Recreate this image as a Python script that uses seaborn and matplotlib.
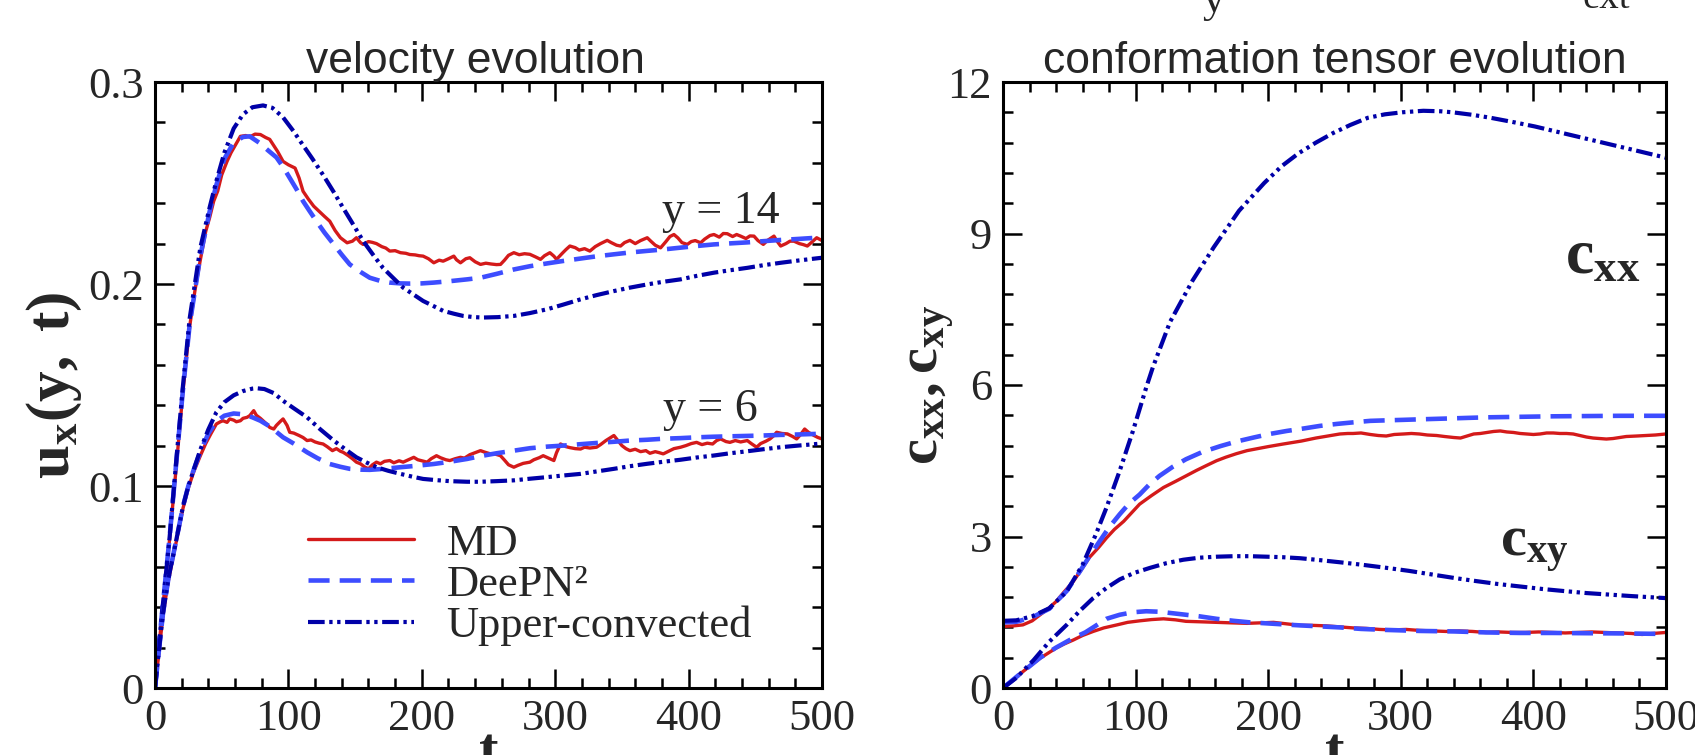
import matplotlib
matplotlib.use("Agg")
import matplotlib.pyplot as plt
from matplotlib.ticker import MultipleLocator
import pandas as pd
import seaborn as sns

# ---------------- data: (t, value) ----------------
# left panel, u_x(y, t)
md14 = [(0, 0), (3, .021), (6, .041), (11, .074), (16, .110), (21, .147), (26, .179), (30, .197), (34, .212), (38, .226),
        (41, .233), (44, .241), (47, .246), (50, .254), (54, .2607), (57, .265), (60, .2685), (64, .2731), (68, .2735), (71, .2728),
        (75, .2742), (79, .274), (83, .2725), (86, .2716), (89, .2685), (92, .2655), (96, .2607), (100, .259), (105, .2574), (108, .2525),
        (111, .2459), (115, .242), (119, .2385), (123, .236), (127, .2335), (131, .2311), (135, .2265), (139, .2229), (144, .2204), (148, .2212),
        (151, .2229), (154, .2205), (156, .2196), (160, .221), (163, .2206), (166, .220), (170, .2185), (173, .2178), (176, .2163), (180, .2165),
        (184, .2155), (188, .2152), (191, .2146), (195, .2144), (198, .214), (201, .2138), (205, .2125), (209, .2105), (213, .2118), (216, .2113),
        (220, .2125), (224, .2138), (226, .212), (229, .2105), (233, .2125), (236, .213), (240, .211), (244, .2097), (248, .2103), (252, .2099),
        (256, .2096), (259, .2097), (262, .2118), (265, .2142), (269, .2155), (273, .2145), (277, .215), (281, .2147), (285, .2135), (289, .2122),
        (292, .214), (296, .2155), (299, .2138), (301, .2122), (305, .215), (308, .217), (311, .2188), (315, .218), (318, .2168), (322, .2175),
        (326, .2163), (330, .2185), (334, .220), (339, .2216), (342, .2205), (346, .2192), (349, .2188), (352, .2205), (356, .2216), (360, .220),
        (364, .2215), (369, .2229), (372, .221), (375, .2192), (379, .2179), (383, .221), (386, .2235), (389, .2245), (392, .2228), (395, .2205),
        (399, .2196), (402, .221), (405, .2215), (409, .2204), (412, .2222), (416, .224), (419, .2245), (423, .2232), (426, .225), (429, .2249),
        (433, .2235), (436, .2245), (439, .2237), (443, .2225), (446, .2238), (449, .2237), (452, .2215), (456, .2196), (459, .2215), (464, .2237),
        (466, .2215), (469, .2188), (473, .220), (476, .2212), (479, .2212), (483, .220), (486, .2195), (489, .2188), (492, .2205), (496, .2229), (500, .2215)]
dp14 = [(0, 0), (3, .022), (6, .042), (11, .075), (16, .112), (21, .148), (26, .180), (34, .214), (41, .236), (46, .249),
        (52, .262), (59, .270), (66, .2728), (71, .2731), (78, .270), (85, .266), (91, .2627), (96, .258), (101, .2525), (106, .247),
        (111, .241), (116, .236), (121, .2311), (127, .2255), (134, .2196), (140, .2145), (146, .2097), (154, .206), (161, .2031), (169, .2015),
        (176, .2007), (184, .2003), (191, .2002), (200, .2003), (209, .2007), (221, .2014), (234, .2023), (244, .2031), (256, .205), (269, .2072),
        (281, .2088), (294, .2102), (306, .2114), (319, .2126), (331, .2137), (344, .2147), (356, .2156), (369, .2164), (381, .2171), (394, .218),
        (406, .2188), (419, .2196), (431, .2201), (444, .2206), (456, .2212), (469, .2218), (482, .2223), (496, .2229), (500, .223)]
uc14 = [(0, 0), (3, .022), (6, .042), (11, .075), (16, .113), (21, .150), (26, .183), (34, .218), (41, .238), (46, .251),
        (52, .265), (59, .277), (66, .284), (73, .2875), (81, .2884), (88, .2872), (96, .2825), (104, .2755), (109, .2706), (118, .262),
        (126, .254), (134, .2455), (141, .2377), (149, .229), (156, .2213), (164, .214), (171, .2079), (179, .2027), (186, .1982), (194, .1947),
        (201, .1916), (209, .189), (216, .1867), (224, .1853), (231, .1842), (239, .1836), (246, .1834), (257, .1836), (269, .1842), (281, .1856),
        (294, .1875), (306, .1898), (319, .1924), (331, .1945), (344, .1965), (356, .1982), (369, .1998), (381, .2011), (394, .2023), (406, .204),
        (419, .2056), (431, .2068), (444, .208), (456, .2093), (469, .2105), (482, .2116), (496, .2127), (500, .213)]
md6 = [(0, 0), (3, .018), (6, .036), (10, .053), (14, .066), (18, .079), (21, .089), (25, .099), (29, .107), (34, .115),
       (38, .121), (42, .126), (46, .1307), (49, .1318), (51, .1323), (54, .1315), (56, .1332), (59, .1326), (61, .1318), (64, .1323),
       (66, .1335), (69, .134), (71, .1348), (74, .1373), (76, .135), (79, .1335), (81, .1323), (84, .1305), (86, .129), (89, .1282),
       (91, .130), (94, .132), (96, .1332), (99, .130), (101, .1266), (104, .1262), (108, .125), (111, .124), (114, .1225), (117, .1228),
       (120, .1218), (123, .1212), (126, .1208), (129, .1195), (133, .1175), (136, .1185), (139, .1172), (141, .1167), (145, .115), (148, .1135),
       (151, .1118), (154, .111), (157, .1095), (160, .1085), (163, .1105), (166, .1118), (169, .111), (172, .1122), (176, .1126), (179, .1115),
       (183, .1125), (186, .1118), (190, .113), (194, .1142), (197, .113), (200, .1125), (204, .1118), (207, .1135), (211, .115), (214, .114),
       (218, .113), (221, .1126), (225, .1135), (229, .1142), (232, .1138), (236, .1155), (240, .1165), (244, .1175), (247, .1168), (251, .116),
       (255, .1158), (259, .115), (262, .1128), (265, .1105), (269, .1093), (272, .1102), (276, .1112), (281, .1118), (284, .113), (288, .114),
       (291, .115), (295, .1138), (299, .1126), (301, .1165), (304, .1208), (308, .1195), (311, .119), (315, .1185), (319, .1183), (322, .1192),
       (326, .1188), (331, .1192), (334, .1205), (338, .1225), (342, .1242), (344, .125), (347, .1225), (350, .120), (353, .1185), (356, .1175),
       (360, .1182), (364, .117), (368, .1175), (371, .1162), (375, .117), (378, .1165), (381, .1159), (385, .1172), (389, .1185), (394, .1192),
       (398, .120), (402, .121), (406, .1216), (410, .1205), (414, .1212), (418, .1208), (421, .1225), (424, .1233), (428, .122), (431, .1216),
       (435, .1225), (439, .1218), (444, .1225), (447, .121), (451, .1192), (454, .121), (458, .1222), (461, .1233), (464, .125), (466, .1266),
       (470, .126), (474, .1258), (478, .1245), (481, .1233), (484, .1255), (487, .1282), (490, .1265), (494, .125), (497, .124), (500, .1233)]
dp6 = [(0, 0), (3, .019), (6, .037), (10, .054), (14, .067), (18, .080), (21, .090), (25, .100), (29, .108), (34, .117),
       (40, .126), (46, .132), (52, .1348), (59, .1359), (66, .1355), (73, .134), (79, .1323), (86, .1295), (96, .1241), (104, .121),
       (114, .1167), (122, .1137), (131, .1109), (139, .1095), (146, .1085), (154, .1081), (161, .108), (172, .1085), (184, .1093), (196, .110),
       (209, .1109), (221, .112), (234, .1134), (244, .1148), (256, .1162), (269, .1175), (281, .1187), (294, .1195), (306, .120), (319, .1207),
       (331, .1213), (344, .1219), (356, .1225), (369, .1229), (381, .1234), (394, .1237), (406, .1241), (419, .1244), (431, .1246), (444, .1248),
       (456, .125), (469, .1253), (482, .1255), (496, .1258), (500, .1258)]
uc6 = [(0, 0), (3, .019), (6, .037), (10, .054), (14, .067), (18, .080), (21, .090), (25, .100), (29, .108), (34, .118),
       (40, .128), (46, .1365), (52, .1415), (59, .1449), (66, .147), (73, .1482), (76, .1484), (82, .148), (89, .146), (96, .1422),
       (104, .1385), (114, .134), (124, .128), (134, .1225), (143, .118), (151, .1142), (159, .1115), (166, .1093), (175, .1075), (184, .106),
       (193, .1046), (201, .1035), (211, .1029), (221, .1024), (234, .1021), (244, .1021), (256, .1024), (269, .1028), (281, .1036), (294, .1044),
       (306, .1052), (319, .106), (331, .1072), (344, .1085), (356, .1098), (369, .111), (381, .112), (394, .113), (406, .1141), (419, .1151),
       (431, .1162), (444, .1172), (456, .1182), (469, .1192), (482, .120), (496, .1208), (500, .121)]

# right panel, c_xx and c_xy
md_cxx = [(0, 1.22), (8, 1.23), (15, 1.25), (22, 1.33), (28, 1.45), (34, 1.57), (40, 1.71), (46, 1.90), (53, 2.11), (59, 2.34),
          (65, 2.58), (72, 2.78), (78, 2.97), (84, 3.14), (91, 3.30), (97, 3.47), (103, 3.64), (112, 3.81), (121, 3.97), (130, 4.09),
          (138, 4.20), (146, 4.31), (153, 4.40), (161, 4.50), (168, 4.57), (176, 4.64), (184, 4.70), (192, 4.74), (200, 4.78), (211, 4.83),
          (218, 4.86), (225, 4.89), (236, 4.95), (245, 4.99), (254, 5.03), (260, 5.04), (264, 5.04), (270, 5.05), (277, 5.02), (283, 5.00),
          (289, 4.99), (295, 5.02), (302, 5.03), (308, 5.04), (314, 5.03), (320, 5.01), (327, 5.00), (333, 4.98), (340, 4.96), (345, 4.95),
          (350, 4.99), (355, 5.03), (360, 5.04), (365, 5.06), (370, 5.08), (375, 5.09), (380, 5.07), (385, 5.06), (390, 5.04), (395, 5.03),
          (400, 5.02), (405, 5.03), (410, 5.05), (415, 5.05), (420, 5.04), (425, 5.04), (430, 5.03), (435, 5.00), (440, 4.97), (445, 4.95),
          (450, 4.94), (455, 4.93), (460, 4.94), (465, 4.96), (470, 4.98), (478, 4.99), (485, 5.00), (492, 5.01), (500, 5.03)]
dp_cxx = [(0, 1.30), (10, 1.31), (22, 1.40), (35, 1.57), (48, 1.92), (58, 2.31), (65, 2.60), (73, 2.91), (80, 3.18), (88, 3.44),
          (95, 3.65), (103, 3.83), (110, 4.02), (118, 4.20), (128, 4.38), (138, 4.53), (150, 4.67), (164, 4.79), (176, 4.88), (189, 4.96),
          (201, 5.03), (214, 5.09), (227, 5.14), (239, 5.19), (252, 5.23), (264, 5.26), (277, 5.29), (289, 5.30), (302, 5.31), (314, 5.32),
          (327, 5.33), (340, 5.34), (352, 5.35), (365, 5.36), (377, 5.365), (390, 5.37), (402, 5.375), (415, 5.38), (440, 5.385), (465, 5.39),
          (500, 5.39)]
uc_cxx = [(0, 1.33), (10, 1.34), (22, 1.42), (35, 1.58), (48, 1.91), (60, 2.44), (70, 3.04), (78, 3.57), (88, 4.30), (98, 5.09),
          (108, 5.95), (113, 6.35), (126, 7.25), (143, 8.07), (159, 8.73), (178, 9.45), (197, 10.00), (210, 10.33), (223, 10.59), (236, 10.80),
          (249, 10.99), (262, 11.15), (275, 11.29), (288, 11.36), (301, 11.40), (317, 11.43), (330, 11.42), (339, 11.40), (354, 11.35), (368, 11.29),
          (384, 11.21), (401, 11.12), (417, 11.02), (433, 10.92), (449, 10.82), (465, 10.72), (481, 10.62), (500, 10.50)]
md_cxy = [(0, 0), (6, .12), (12, .26), (20, .43), (28, .59), (34, .69), (40, .79), (46, .87), (53, .95), (60, 1.04),
          (68, 1.12), (76, 1.19), (86, 1.25), (94, 1.30), (103, 1.33), (112, 1.355), (121, 1.37), (130, 1.35), (138, 1.32), (150, 1.31),
          (161, 1.30), (172, 1.29), (184, 1.28), (194, 1.29), (204, 1.30), (214, 1.27), (224, 1.24), (234, 1.24), (244, 1.23), (254, 1.21),
          (264, 1.19), (274, 1.18), (284, 1.16), (294, 1.15), (304, 1.16), (314, 1.14), (324, 1.13), (334, 1.12), (344, 1.13), (354, 1.12),
          (364, 1.10), (374, 1.11), (384, 1.10), (394, 1.10), (404, 1.11), (414, 1.10), (424, 1.09), (434, 1.10), (444, 1.11), (454, 1.10),
          (464, 1.09), (474, 1.08), (482, 1.06), (490, 1.08), (500, 1.10)]
dp_cxy = [(0, 0), (12, .26), (28, .60), (40, .80), (53, .99), (62, 1.10), (68, 1.20), (78, 1.37), (88, 1.45), (98, 1.50),
          (108, 1.52), (118, 1.51), (128, 1.48), (138, 1.45), (148, 1.42), (161, 1.37), (174, 1.33), (186, 1.30), (199, 1.28), (211, 1.26),
          (224, 1.24), (239, 1.22), (254, 1.20), (270, 1.17), (289, 1.15), (314, 1.13), (340, 1.12), (365, 1.10), (390, 1.09), (415, 1.09),
          (440, 1.085), (470, 1.08), (500, 1.07)]
uc_cxy = [(0, 0), (10, .20), (23, .55), (35, .92), (48, 1.25), (58, 1.53), (68, 1.78), (78, 1.98), (88, 2.15), (99, 2.28),
          (111, 2.38), (123, 2.47), (136, 2.54), (148, 2.58), (161, 2.60), (174, 2.61), (186, 2.61), (199, 2.60), (211, 2.59), (224, 2.57),
          (236, 2.54), (254, 2.49), (271, 2.44), (289, 2.38), (306, 2.32), (323, 2.25), (340, 2.18), (356, 2.12), (373, 2.06), (390, 2.01),
          (407, 1.96), (423, 1.92), (440, 1.88), (457, 1.85), (474, 1.82), (490, 1.795), (500, 1.78)]

t_ticks = [0, 100, 200, 300, 400, 500]
u_ticks = [0, 0.1, 0.2, 0.3]
u_ticklabels = ["0", "0.1", "0.2", "0.3"]
c_ticks = [0, 3, 6, 9, 12]
legend_labels = ["MD", "DeePN²", "Upper-convected"]

# ---------------- style ----------------
sns.set_style("ticks")
plt.rcParams["font.family"] = ["Liberation Serif", "DejaVu Serif"]
plt.rcParams["mathtext.fontset"] = "custom"
plt.rcParams["mathtext.rm"] = "Liberation Serif"
plt.rcParams["mathtext.it"] = "Liberation Serif:italic"
plt.rcParams["mathtext.bf"] = "Liberation Serif:bold"

RED = "#d41a1a"
BLUE = "#3d4dff"
NAVY = "#0000a8"
styles = {
    "md": dict(color=RED, lw=2.4, linestyle="-"),
    "dp": dict(color=BLUE, lw=3.3, linestyle=(0, (4.6, 2.2))),
    "uc": dict(color=NAVY, lw=3.0, linestyle=(0, (4.0, 1.1, 0.8, 1.1, 0.8, 1.1))),
}


def draw(ax, pts, kind, label=None):
    df = pd.DataFrame(pts, columns=["t", "v"])
    sns.lineplot(data=df, x="t", y="v", ax=ax, estimator=None, sort=False,
                 label=label, legend=False, **styles[kind])


def frame(ax, yticks, ylabels, yminor):
    ax.set_xlim(0, 500)
    ax.set_xticks(t_ticks, [str(t) for t in t_ticks])
    ax.set_yticks(yticks, ylabels)
    ax.xaxis.set_minor_locator(MultipleLocator(20))
    ax.yaxis.set_minor_locator(MultipleLocator(yminor))
    ax.tick_params(which="both", direction="in", top=True, right=True, width=1.8, color="black")
    ax.tick_params(which="major", length=14, labelsize=32, pad=8)
    ax.tick_params(which="minor", length=7)
    for sp in ax.spines.values():
        sp.set_linewidth(2.2)
        sp.set_color("black")
    ax.set_xlabel("t", fontsize=42, fontweight="bold")
    ax.xaxis.set_label_coords(0.5, -0.066)


fig = plt.figure(figsize=(16.95, 7.55), dpi=100)
ax1 = fig.add_axes([155 / 1695, 1 - 688 / 755, 667 / 1695, 606 / 755])
ax2 = fig.add_axes([1003 / 1695, 1 - 688 / 755, 663 / 1695, 606 / 755])

# left: velocity
draw(ax1, md14, "md", legend_labels[0])
draw(ax1, dp14, "dp", legend_labels[1])
draw(ax1, uc14, "uc", legend_labels[2])
draw(ax1, md6, "md")
draw(ax1, dp6, "dp")
draw(ax1, uc6, "uc")
ax1.set_ylim(0, 0.3)
frame(ax1, u_ticks, u_ticklabels, 0.02)
ax1.set_ylabel(r"$\mathbf{u_x(y,\ t)}$", fontsize=44)
ax1.yaxis.set_label_coords(-0.106, 0.5)
ax1.set_title("velocity evolution", family="Liberation Sans", fontsize=32, pad=6, x=0.48)
ax1.text(424, 0.2301, "y = 14", fontsize=33, ha="center", va="baseline")
ax1.text(416, 0.1323, "y = 6", fontsize=33, ha="center", va="baseline")
ax1.legend(loc="center left", bbox_to_anchor=(0.229, 0.170), frameon=False, fontsize=32,
           handlelength=2.4, handletextpad=0.72, labelspacing=0.02, borderpad=0, borderaxespad=0)

# right: conformation tensor
draw(ax2, md_cxx, "md")
draw(ax2, dp_cxx, "dp")
draw(ax2, uc_cxx, "uc")
draw(ax2, md_cxy, "md")
draw(ax2, dp_cxy, "dp")
draw(ax2, uc_cxy, "uc")
ax2.set_ylim(0, 12)
frame(ax2, c_ticks, [str(c) for c in c_ticks], 0.6)
ax2.set_ylabel(r"$\mathbf{c_{xx}, c_{xy}}$", fontsize=42)
ax2.yaxis.set_label_coords(-0.069, 0.5)
ax2.set_title("conformation tensor evolution", family="Liberation Sans", fontsize=32, pad=6)
ax2.text(424, 8.21, r"$\mathbf{c_{xx}}$", fontsize=46, ha="left", va="baseline")
ax2.text(375, 2.61, r"$\mathbf{c_{xy}}$", fontsize=42, ha="left", va="baseline")

# bits of the equation above the figure, cut by the top edge
fig.text(1214 / 1695, 1 - 12 / 755, "y", fontsize=32, ha="center", va="baseline")
fig.text(1606 / 1695, 1 - 8 / 755, "ext", fontsize=28, ha="center", va="baseline")

fig.savefig("out.png", dpi=100)
